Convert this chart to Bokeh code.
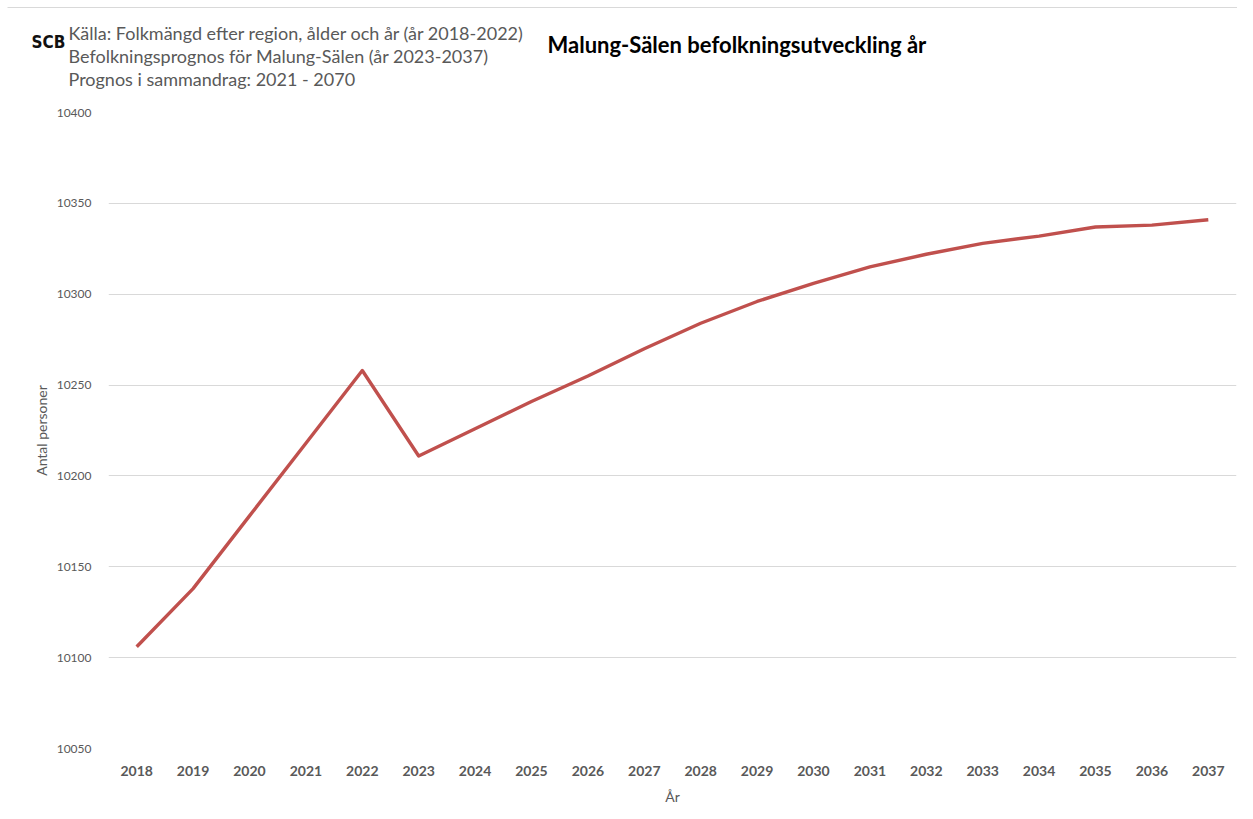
from bokeh.plotting import figure
from bokeh.layouts import column
from bokeh.models import FixedTicker, Range1d
from bokeh.core.properties import value
from bokeh.embed import file_html
from bokeh.resources import INLINE

years = list(range(2018, 2038))
population = [10106, 10138, 10178, 10218, 10258, 10211, 10226, 10241, 10255, 10270,
              10284, 10296, 10306, 10315, 10322, 10328, 10332, 10337, 10338, 10341]
y_ticks = [10050, 10100, 10150, 10200, 10250, 10300, 10350, 10400]

title_text = "Malung-Sälen befolkningsutveckling år"
source_lines = ["Källa: Folkmängd efter region, ålder och år (år 2018-2022)",
                "Befolkningsprognos för Malung-Sälen (år 2023-2037)",
                "Prognos i sammandrag: 2021 - 2070"]
logo_text = "SCB"

FONT = "Lato"
GRAY = "#595959"
W = 1237
TOP_H = 100
MAIN_H = 707

# ---- header strip (texts) ----
head = figure(width=W, height=TOP_H, output_backend="svg", toolbar_location=None,
              x_range=Range1d(0, W), y_range=Range1d(TOP_H, 0),
              x_axis_type=None, y_axis_type=None,
              min_border=0, min_border_left=0, min_border_right=0,
              min_border_top=0, min_border_bottom=0)
head.outline_line_color = None
head.xgrid.grid_line_color = None
head.ygrid.grid_line_color = None
head.segment(x0=[7], y0=[7], x1=[W], y1=[7], line_color="#d9d9d9", line_width=1)

head.text(x=[48], y=[41], text=[logo_text], text_font=value("DejaVu Sans Condensed"),
          text_font_style="bold", text_font_size="17px", text_color="#111111",
          text_align="center", text_baseline="middle")
head.text(x=[68, 68, 68], y=[32, 55, 78], text=source_lines, text_font=value(FONT),
          text_font_size="18px", text_color=GRAY, text_align="left", text_baseline="middle")
head.text(x=[547], y=[44], text=[title_text], text_font=value(FONT),
          text_font_style="bold", text_font_size="22px", text_color="#000000",
          text_align="left", text_baseline="middle")

# ---- main chart ----
p = figure(width=W, height=MAIN_H, output_backend="svg", toolbar_location=None,
           x_range=Range1d(2017.5, 2037.5), y_range=Range1d(10050, 10400),
           min_border_left=108, min_border_right=1, min_border_top=12, min_border_bottom=54)
p.outline_line_color = None
p.background_fill_color = "white"
p.border_fill_color = "white"

p.line(years, population, line_color="#c0504d", line_width=3.4, line_join="round")

p.xgrid.grid_line_color = None
p.ygrid.grid_line_color = "#d9d9d9"
p.ygrid.grid_line_width = 1
p.yaxis.ticker = FixedTicker(ticks=y_ticks)
p.xaxis.ticker = FixedTicker(ticks=years)

for ax in (p.xaxis[0], p.yaxis[0]):
    ax.axis_line_color = None
    ax.major_tick_line_color = None
    ax.minor_tick_line_color = None
    ax.major_label_text_font = FONT
    ax.axis_label_text_font = FONT
    ax.axis_label_text_font_style = "normal"
    ax.axis_label_text_color = GRAY
    ax.axis_label_text_font_size = "14px"

p.yaxis.major_label_text_color = GRAY
p.yaxis.major_label_text_font_size = "12px"
p.yaxis.major_label_standoff = 11
p.yaxis.axis_label = "Antal personer"
p.yaxis.axis_label_standoff = 4

p.xaxis.major_label_text_color = GRAY
p.xaxis.major_label_text_font_size = "14px"
p.xaxis.major_label_standoff = 11
p.xaxis.major_label_text_font_style = "bold"
p.xaxis.axis_label = "År"
p.xaxis.axis_label_standoff = 9

layout = column(column(head), p, spacing=0)
open("out.html", "w").write(file_html(layout, INLINE))
